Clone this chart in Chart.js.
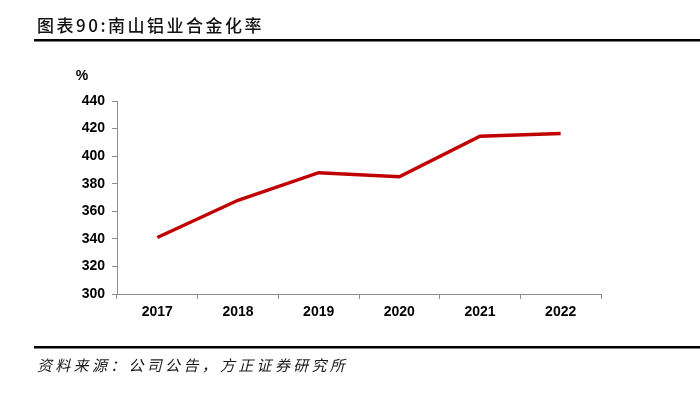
<!DOCTYPE html>
<html>
<head>
<meta charset="utf-8">
<script src="https://cdn.jsdelivr.net/npm/chart.js@4/dist/chart.umd.min.js"></script>
<style>
  html, body { margin: 0; padding: 0; background: #fff; }
  #wrap { position: relative; width: 700px; height: 396px; }
</style>
</head>
<body>
<div id="wrap"><canvas id="chart" width="700" height="396"></canvas></div>
<script>
let years = ['2017', '2018', '2019', '2020', '2021', '2022'];
let alloyRate = [341, 368, 388, 385, 414.5, 416.5];
let yTicks = [300, 320, 340, 360, 380, 400, 420, 440];

let titleText = '图表90:南山铝业合金化率';
let sourceText = '资料来源：公司公告，方正证券研究所';

// title, rules, footer and unit label
let decor = {
    id: 'decor',
    afterDraw(chart) {
        let c = chart.ctx;
        c.save();
        c.fillStyle = '#111';
        c.font = '500 17px "Noto Sans CJK SC"';
        c.textBaseline = 'middle';
        c.letterSpacing = '2.5px';
        c.fillText(titleText, 37, 26);
        c.letterSpacing = '0px';
        c.fillStyle = '#000';
        c.fillRect(34, 39, 666, 2.5);
        c.fillRect(34, 346, 666, 2.5);
        c.font = 'italic 15px "Noto Sans CJK SC"';
        c.fillStyle = '#1a1a1a';
        c.letterSpacing = '3.3px';
        c.fillText(sourceText, 37, 365);
        c.letterSpacing = '0px';
        c.font = 'bold 14px "Liberation Sans"';
        c.fillStyle = '#000';
        c.textAlign = 'center';
        c.fillText('%', 82, 76);
        c.restore();
    }
};

let myChart = document.getElementById('chart').getContext('2d');

new Chart(myChart, {
    type: 'line',
    data: {
        labels: years,
        datasets: [{
            data: alloyRate,
            borderColor: '#C00000',
            borderWidth: 3.5,
            pointRadius: 0,
            tension: 0,
            fill: false
        }]
    },
    options: {
        responsive: false,
        animation: false,
        layout: { padding: { left: 0, right: 99, top: 101, bottom: 72 } },
        plugins: { legend: { display: false }, tooltip: { enabled: false } },
        scales: {
            x: {
                offset: true,
                grid: { offset: true, drawOnChartArea: false, color: '#8c8c8c', tickLength: 5 },
                border: { color: '#8c8c8c', width: 1 },
                ticks: { color: '#000', font: { family: 'Liberation Sans', size: 14, weight: 'bold' }, padding: 5, maxRotation: 0 },
                afterFit(s) { s.height = 30; }
            },
            y: {
                min: 300,
                max: 440,
                afterBuildTicks(s) { s.ticks = yTicks.map(v => ({ value: v })); },
                grid: { drawOnChartArea: false, color: '#8c8c8c', tickLength: 5 },
                border: { color: '#8c8c8c', width: 1 },
                ticks: { color: '#000', font: { family: 'Liberation Sans', size: 14, weight: 'bold' }, padding: 7 },
                afterFit(s) { s.width = 117; }
            }
        }
    },
    plugins: [decor]
});
</script>
</body>
</html>
